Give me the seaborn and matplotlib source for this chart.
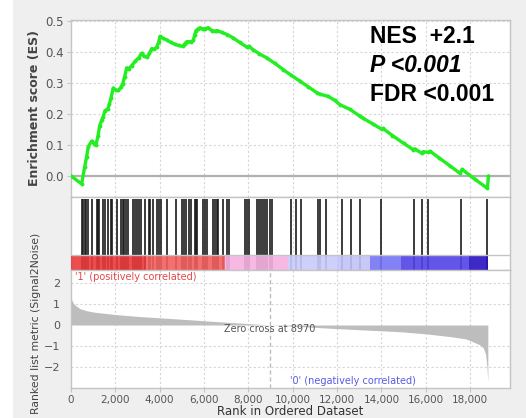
import matplotlib
matplotlib.use("Agg")
import matplotlib.pyplot as plt
import seaborn as sns
import numpy as np
import pandas as pd
from matplotlib.patches import Rectangle

# ---------------- data ----------------
es_rank = [0, 480, 620, 700, 780, 934, 1050, 1128, 1220, 1290, 1385, 1450, 1534, 1650, 1728,
           1800, 1908, 2050, 2134, 2250, 2333, 2420, 2513, 2600, 2739, 2900, 3050, 3190, 3300,
           3443, 3540, 3641, 3760, 3867, 3950, 4016, 4150, 4318, 4500, 4692, 4850, 5040, 5130,
           5220, 5400, 5518, 5580, 5640, 5720, 5820, 5950, 6030, 6195, 6350, 6497, 6600, 6800,
           7050, 7323, 7600, 7927, 8030, 8200, 8500, 8829, 9200, 9578, 9930, 10331, 10700,
           11084, 11240, 11607, 11900, 12136, 12587, 13038, 13187, 13600, 14016, 14060, 14500,
           15000, 15442, 15500, 15820, 15880, 16100, 16200, 16600, 17100, 17548, 17640, 18200,
           18780, 18830]
es_value = [0.0, -0.026, 0.03, 0.06, 0.094, 0.112, 0.104, 0.100, 0.13, 0.16, 0.18, 0.19, 0.21,
            0.215, 0.23, 0.25, 0.283, 0.275, 0.275, 0.285, 0.297, 0.32, 0.348, 0.345, 0.355,
            0.37, 0.38, 0.395, 0.385, 0.382, 0.395, 0.41, 0.408, 0.415, 0.43, 0.449, 0.443,
            0.438, 0.43, 0.424, 0.42, 0.417, 0.425, 0.432, 0.432, 0.436, 0.455, 0.468, 0.473,
            0.477, 0.473, 0.474, 0.477, 0.468, 0.466, 0.468, 0.462, 0.455, 0.444, 0.43, 0.415,
            0.417, 0.407, 0.393, 0.38, 0.362, 0.342, 0.324, 0.305, 0.287, 0.268, 0.263, 0.256,
            0.243, 0.229, 0.214, 0.192, 0.185, 0.168, 0.150, 0.153, 0.130, 0.105, 0.084, 0.087,
            0.073, 0.078, 0.076, 0.079, 0.058, 0.032, 0.008, 0.021, -0.01, -0.040, 0.0]

hit_ranks = [496, 556, 617, 677, 782, 932, 1158, 1218, 1278, 1429, 1534, 1684, 1789, 1850,
             2090, 2240, 2331, 2391, 2481, 2571, 2782, 2872, 2963, 3053, 3143, 3353, 3504,
             3564, 3714, 3895, 3970, 4046, 4316, 4737, 5008, 5098, 5188, 5338, 5429, 5579,
             5639, 5699, 5940, 6030, 6120, 6391, 6511, 6601, 6645, 6842, 7023, 7143, 7850,
             7925, 8031, 8376, 8497, 8587, 8677, 8768, 8858, 8978, 9068, 9900, 10150, 10380,
             11120, 11240, 11520, 12240, 12620, 13040, 14000, 15450, 15850, 16100, 17590, 18780]

bar_start = [0, 3400, 6950, 9800, 12000, 13480, 14900, 17950]
bar_end = [3400, 6950, 9800, 12000, 13480, 14900, 17950, 18830]
bar_color = ["#ea3a3c", "#f2605f", "#f6b2e2", "#cacafb", "#c2c2f9", "#7575f6", "#5142e6", "#2812c0"]

metric_rank = [0, 30, 100, 180, 400, 707, 1000, 1308, 2000, 3000, 4330, 5500, 6580, 7800,
               8970, 10000, 11800, 13500, 14840, 16000, 17090, 17800, 18130, 18450, 18600,
               18700, 18760, 18800]
metric_value = [1.35, 1.2, 1.05, 0.95, 0.78, 0.68, 0.62, 0.58, 0.5, 0.41, 0.32, 0.24, 0.16,
                0.08, 0.0, -0.05, -0.16, -0.25, -0.32, -0.42, -0.55, -0.66, -0.8, -0.95,
                -1.1, -1.4, -2.0, -2.7]
zero_cross = 8970

es_ticks = [0.0, 0.1, 0.2, 0.3, 0.4, 0.5]
metric_ticks = [-2, -1, 0, 1, 2]
x_ticks = [0, 2000, 4000, 6000, 8000, 10000, 12000, 14000, 16000, 18000]
x_ticklabels = ["0", "2,000", "4,000", "6,000", "8,000", "10,000", "12,000", "14,000",
                "16,000", "18,000"]

# ---------------- figure ----------------
sns.set_style("white")
plt.rcParams['font.family'] = ['DejaVu Sans']

W, H = 526, 418
fig = plt.figure(figsize=(W / 100, H / 100), dpi=100, facecolor="#efefef")
fig.patches.append(Rectangle((0, 0), 13 / W, 1, transform=fig.transFigure,
                             facecolor="white", edgecolor="none", zorder=0))

def frac(x0, y0, x1, y1):
    return [x0 / W, 1 - y1 / H, (x1 - x0) / W, (y1 - y0) / H]

XMAX = 19800
grid_kw = dict(color="#d6d6d6", linestyle=(0, (2, 2)), linewidth=0.8)
spine_col = "#c4c4c4"
tick_col = "#555555"

ax1 = fig.add_axes(frac(71, 20, 510, 197))
ax2 = fig.add_axes(frac(71, 197, 510, 270))
ax3 = fig.add_axes(frac(71, 270, 510, 388))

for ax in (ax1, ax2, ax3):
    ax.set_facecolor("white")
    ax.set_xlim(0, XMAX)
    for s in ax.spines.values():
        s.set_color(spine_col)
        s.set_linewidth(1.0)
    ax.set_xticks(x_ticks)
    for xt in x_ticks[1:]:
        ax.axvline(xt, zorder=0, **grid_kw)

# ---- ES panel ----
df = pd.DataFrame({"rank": es_rank, "es": es_value})
ax1.axhline(0, color="#b0b0b0", linewidth=1.6, zorder=1)
for yt in es_ticks[1:]:
    ax1.axhline(yt, zorder=0, **grid_kw)
sns.lineplot(data=df, x="rank", y="es", ax=ax1, color="#22ee22", linewidth=2.4,
             marker="o", markersize=2.8, markeredgewidth=0, zorder=3)
ax1.set_ylim(-0.068, 0.502)
ax1.set_yticks(es_ticks)
ax1.set_yticklabels([f"{v:.1f}" for v in es_ticks], color=tick_col, fontsize=8.5)
ax1.tick_params(axis="y", length=3, color=spine_col, pad=2, left=True)
ax1.tick_params(axis="x", bottom=False, labelbottom=False)
ax1.set_xlabel("")
ax1.set_ylabel("Enrichment score (ES)", fontsize=9, fontweight="bold", color="#444444")
ax1.yaxis.set_label_coords(-0.068, 0.5)

txt_kw = dict(transform=ax1.transAxes, fontsize=16.5, fontweight="bold",
              family=["Liberation Sans", "DejaVu Sans"], color="black", ha="left", va="baseline")
ax1.text(0.68, 0.87, "NES  +2.1", **txt_kw)
ax1.text(0.68, 0.705, "P <0.001", style="italic", **txt_kw)
ax1.text(0.68, 0.545, "FDR <0.001", **txt_kw)

# ---- hits + colour bar ----
ax2.set_ylim(0, 1)
ax2.vlines(hit_ranks, 0.0, 0.97, color="#1a1a1a", linewidth=1.2, zorder=2)
ax2.bar(bar_start, height=0.205, width=np.array(bar_end) - np.array(bar_start),
        bottom=0, align="edge", color=bar_color, edgecolor="none", alpha=0.9, zorder=3)
ax2.axhline(0.205, color=spine_col, linewidth=1.0, zorder=4)
ax2.set_yticks([])
ax2.tick_params(axis="x", bottom=False, labelbottom=False)

# ---- ranked metric ----
ax3.fill_between(metric_rank, metric_value, 0, color="#bdbdbd", linewidth=0, zorder=2)
for yt in metric_ticks:
    if yt != 0:
        ax3.axhline(yt, zorder=0, **grid_kw)
ax3.axvline(zero_cross, color="#bdbdbd", linestyle=(0, (3, 2)), linewidth=1.0, zorder=1)
ax3.set_ylim(-3.0, 2.62)
ax3.set_yticks(metric_ticks)
ax3.set_yticklabels([str(v) if v >= 0 else "\u2212" + str(-v) for v in metric_ticks],
                    color=tick_col, fontsize=8)
ax3.set_xticklabels(x_ticklabels, color=tick_col, fontsize=7.5)
ax3.tick_params(axis="y", length=0, pad=8)
ax3.tick_params(axis="x", length=3, color=spine_col, pad=2, bottom=True)
ax3.set_xlabel("Rank in Ordered Dataset", fontsize=8.5, color="#333333", labelpad=0)
ax3.set_ylabel("Ranked list metric (Signal2Noise)", fontsize=7.8, color="#444444")
ax3.yaxis.set_label_coords(-0.068, 0.55)
ax3.text(zero_cross, -0.2, "Zero cross at 8970", fontsize=7, color="#555555",
         ha="center", va="center", zorder=4)
ax3.text(200, 2.3, "'1' (positively correlated)", fontsize=7, color="#e34848",
         ha="left", va="center")
ax3.text(9900, -2.65, "'0' (negatively correlated)", fontsize=7, color="#5a5ae6",
         ha="left", va="center")

fig.savefig("out.png", dpi=100, facecolor=fig.get_facecolor())
